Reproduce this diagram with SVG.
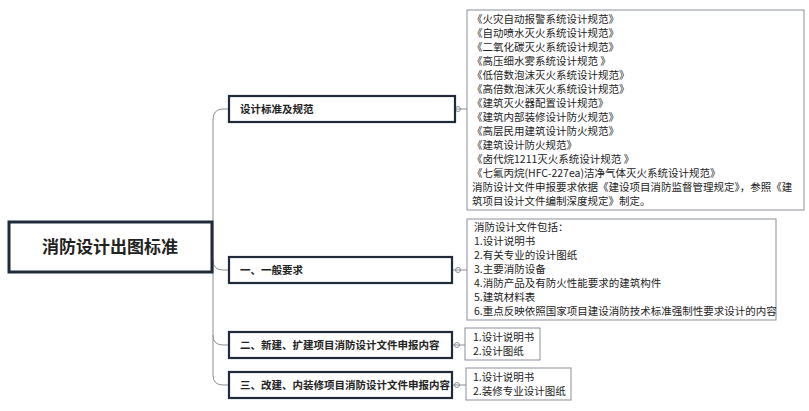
<svg xmlns="http://www.w3.org/2000/svg" width="809" height="411" viewBox="0 0 809 411">
<style>
text{font-family:"Microsoft YaHei","Noto Sans CJK SC",sans-serif;fill:#222}
.l1{fill:#fff;stroke:#1f2a3a;stroke-width:2.2}
.l2{fill:#fff;stroke:#8a8f98;stroke-width:1}
.c{fill:none;stroke:#8a8f98;stroke-width:1}
.t1{font-size:10.5px;font-weight:bold}
.t2{font-size:10.5px}
</style>
<rect width="809" height="411" fill="#fff"/>
<g id="connectors">
<path class="c" d="M212,247 H213 M213,120 V375 Q213,385 223,385 H229 M213,120 Q213,109 223,109 H229 M213,260 Q213,270 223,270 H229 M213,335 Q213,345 223,345 H229"/>
<path class="c" d="M455,109 H467 M452,270 H467 M452,345 H465 M452,385 H466"/>
<circle class="c" cx="458" cy="109" r="2.5" fill="#fff"/>
<circle class="c" cx="458" cy="270" r="2.5" fill="#fff"/>
<circle class="c" cx="457" cy="345" r="2.5" fill="#fff"/>
<circle class="c" cx="457" cy="385" r="2.5" fill="#fff"/>
</g>
<g id="root"><rect x="9" y="222" width="203" height="50" fill="#fff" stroke="#1f2a3a" stroke-width="3"/><text x="110" y="253" text-anchor="middle" font-size="17" font-weight="bold">消防设计出图标准</text></g>
<g id="n1"><rect class="l1" x="229" y="96" width="226" height="26"/><text class="t1" x="240" y="113">设计标准及规范</text></g>
<g id="n2"><rect class="l1" x="229" y="257" width="223" height="26"/><text class="t1" x="240" y="274">一、一般要求</text></g>
<g id="n3"><rect class="l1" x="229" y="332" width="223" height="26"/><text class="t1" x="240" y="349">二、新建、扩建项目消防设计文件申报内容</text></g>
<g id="n4"><rect class="l1" x="229" y="372" width="223" height="26"/><text class="t1" x="240" y="389">三、改建、内装修项目消防设计文件申报内容</text></g>
<g id="d1"><rect class="l2" x="467" y="10" width="337" height="200"/>
<text class="t2" x="472" y="23">《火灾自动报警系统设计规范》</text>
<text class="t2" x="472" y="37">《自动喷水灭火系统设计规范》</text>
<text class="t2" x="472" y="51">《二氧化碳灭火系统设计规范》</text>
<text class="t2" x="472" y="65">《高压细水雾系统设计规范 》</text>
<text class="t2" x="472" y="79">《低倍数泡沫灭火系统设计规范》</text>
<text class="t2" x="472" y="93">《高倍数泡沫灭火系统设计规范》</text>
<text class="t2" x="472" y="107">《建筑灭火器配置设计规范》</text>
<text class="t2" x="472" y="121">《建筑内部装修设计防火规范》</text>
<text class="t2" x="472" y="135">《高层民用建筑设计防火规范》</text>
<text class="t2" x="472" y="149">《建筑设计防火规范》</text>
<text class="t2" x="472" y="163">《卤代烷1211灭火系统设计规范 》</text>
<text class="t2" x="472" y="177">《七氟丙烷(HFC-227ea)洁净气体灭火系统设计规范》</text>
<text class="t2" x="472" y="191">消防设计文件申报要求依据《建设项目消防监督管理规定》，参照《建</text>
<text class="t2" x="472" y="205">筑项目设计文件编制深度规定》制定。</text>
</g>
<g id="d2"><rect class="l2" x="467" y="219" width="309" height="101"/>
<text class="t2" x="474" y="231">消防设计文件包括：</text>
<text class="t2" x="474" y="245">1.设计说明书</text>
<text class="t2" x="474" y="259">2.有关专业的设计图纸</text>
<text class="t2" x="474" y="273">3.主要消防设备</text>
<text class="t2" x="474" y="287">4.消防产品及有防火性能要求的建筑构件</text>
<text class="t2" x="474" y="301">5.建筑材料表</text>
<text class="t2" x="474" y="315">6.重点反映依照国家项目建设消防技术标准强制性要求设计的内容</text>
</g>
<g id="d3"><rect class="l2" x="465" y="328" width="75" height="32"/>
<text class="t2" x="473" y="341">1.设计说明书</text>
<text class="t2" x="473" y="355">2.设计图纸</text></g>
<g id="d4"><rect class="l2" x="466" y="368" width="105" height="32"/>
<text class="t2" x="473" y="381">1.设计说明书</text>
<text class="t2" x="473" y="395">2.装修专业设计图纸</text></g>
</svg>
